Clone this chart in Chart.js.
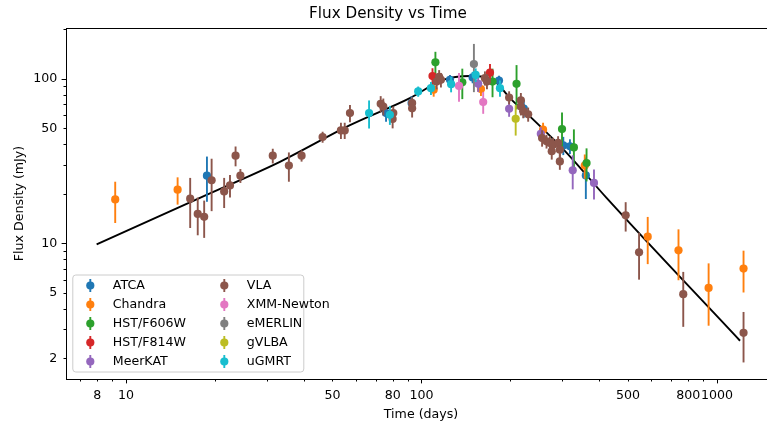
<!DOCTYPE html>
<html><head><meta charset="utf-8">
<script src="https://cdn.jsdelivr.net/npm/chart.js@4.4.1/dist/chart.umd.min.js"></script>
<style>
html,body{margin:0;padding:0;overflow:hidden;background:#fff;width:767px;height:424px}
#wrap{position:absolute;left:0;top:0;width:842px;height:424px}
</style>
</head><body><div id="wrap"><canvas id="c" width="842" height="424"></canvas></div>
<script>
// ---------- data ----------
const instrumentNames = ['ATCA','Chandra','HST/F606W','HST/F814W','MeerKAT','VLA','XMM-Newton','eMERLIN','gVLBA','uGMRT'];

const atcaTime = [18.8, 75.9, 92.6, 124.9, 149, 183, 222, 302, 318, 360];
const atcaFlux = [25.8, 61.9, 71.3, 98.6, 102, 97.6, 66, 39.4, 38.9, 25.9];
const atcaErr  = [7.9, 7, 7, 7, 8, 7, 8, 5, 4, 7.3];

const chandraTime = [9.2, 14.96, 110, 159, 258, 357, 583, 741, 937, 1230];
const chandraFlux = [18.5, 21.2, 85.9, 86.6, 49.1, 29.7, 10.98, 9.07, 5.36, 7.03];
const chandraErr  = [5.2, 4, 8, 8, 5, 5, 3.5, 3.1, 2.2, 2.0];

const f606Time = [111.5, 137.5, 174, 209.8, 299, 328, 362];
const f606Flux = [126, 95.3, 96.3, 93.2, 49.5, 38.3, 30.8];
const f606Err  = [20, 20, 19, 28, 13, 11, 7];

const f814Time = [109, 170.6];
const f814Flux = [104, 109];
const f814Err  = [12, 14];

const meerkatTime = [155.6, 198, 253.5, 325, 383.6];
const meerkatFlux = [93.2, 65.8, 46.3, 27.8, 23.3];
const meerkatErr  = [10, 7, 4.5, 6.5, 4.8];

const vlaTime = [16.5, 17.5, 18.4, 19.5, 21.5, 22.5, 23.5, 24.4, 31.4, 35.6, 39.3, 46.3, 53.4, 55.0, 57.3, 72.8, 74.3, 80.3, 79.9, 93, 93, 112.6, 114.8, 116.4, 164, 166.6, 198, 217, 217, 221, 229.7, 256, 265, 272, 279, 290, 294, 276, 294, 491, 545, 769, 1230];
const vlaFlux = [18.7, 15.1, 14.5, 24.2, 20.7, 22.5, 34.1, 25.8, 34.1, 29.7, 34.1, 44.3, 48.6, 48.6, 61.9, 70.5, 67.9, 61.9, 57, 71.3, 66.2, 96.3, 103, 98.6, 101, 96.5, 77, 74, 67.9, 63.6, 60.9, 43.7, 41.7, 40.8, 39.8, 40.8, 37.1, 36.3, 31.5, 14.8, 8.82, 4.91, 2.86];
const vlaErr  = [6.3, 3.9, 3.7, 8.5, 4.3, 3.5, 4.7, 2.5, 3.5, 6, 2.7, 3.4, 5.5, 5.5, 7.5, 8, 8, 6, 7, 6, 8, 10, 10, 10, 10, 10, 7, 8, 8, 6, 6, 5, 4, 4, 4, 4, 4, 4, 3.5, 3, 2.8, 1.8, 0.97];

const xmmTime = [134, 161.8];
const xmmFlux = [90.6, 72.3];
const xmmErr  = [18, 11];

const emerlinTime = [150.5];
const emerlinFlux = [123];
const emerlinErr  = [40];

const gvlbaTime = [208.4];
const gvlbaFlux = [57.2];
const gvlbaErr  = [12];

const ugmrtTime = [66.5, 78.2, 97.5, 107.7, 126, 152.6, 184.4];
const ugmrtFlux = [61.9, 60.5, 83.8, 87.8, 92.8, 105.7, 87.8];
const ugmrtErr  = [12, 8, 6, 8, 10, 10, 10];

// model curve
const modelTime = [7.96, 17.8, 33.2, 57.3, 91.4, 118.5, 145.9, 161.9, 179.7, 199.3, 232.8, 310, 423, 1197];
const modelFlux = [9.86, 18.9, 31.3, 52.3, 76.4, 98.6, 104, 103, 94.2, 76.4, 59.1, 35.5, 18.9, 2.56];

// ticks
const xTicks = [7, 8, 9, 10, 20, 30, 40, 50, 60, 70, 80, 90, 100, 200, 300, 400, 500, 600, 700, 800, 900, 1000];
const xTickLabels = [8, 10, 50, 80, 100, 500, 800, 1000];
const xMajorTicks = [10, 100, 1000];
const yTicks = [2, 3, 4, 5, 6, 7, 8, 9, 10, 20, 30, 40, 50, 60, 70, 80, 90, 100, 200];
const yTickLabels = [2, 5, 10, 50, 100];
const yMajorTicks = [10, 100];

// ---------- styling ----------
const instrumentColors = ['#1f77b4','#ff7f0e','#2ca02c','#d62728','#9467bd','#8c564b','#e377c2','#7f7f7f','#bcbd22','#17becf'];
const FONT = "'DejaVu Sans', sans-serif";
const series = [
  [atcaTime, atcaFlux, atcaErr],
  [chandraTime, chandraFlux, chandraErr],
  [f606Time, f606Flux, f606Err],
  [f814Time, f814Flux, f814Err],
  [meerkatTime, meerkatFlux, meerkatErr],
  [vlaTime, vlaFlux, vlaErr],
  [xmmTime, xmmFlux, xmmErr],
  [emerlinTime, emerlinFlux, emerlinErr],
  [gvlbaTime, gvlbaFlux, gvlbaErr],
  [ugmrtTime, ugmrtFlux, ugmrtErr]
];

const datasets = series.map((s, k) => ({
  type: 'scatter',
  label: instrumentNames[k],
  data: s[0].map((t, i) => ({x: t, y: s[1][i]})),
  errors: s[2],
  backgroundColor: instrumentColors[k],
  borderWidth: 0,
  pointRadius: 4.1,
  pointHoverRadius: 4.1,
  order: 11 - k
}));
datasets.push({
  type: 'line',
  label: 'model',
  data: modelTime.map((t, i) => ({x: t, y: modelFlux[i]})),
  borderColor: '#000',
  borderWidth: 1.9,
  pointRadius: 0,
  cubicInterpolationMode: 'monotone',
  fill: false,
  order: 20
});

const errorBars = {
  id: 'errorBars',
  beforeDatasetDraw(chart, args) {
    const ds = chart.data.datasets[args.index];
    if (!ds.errors) return;
    const {ctx, chartArea: ca, scales: {x, y}} = chart;
    ctx.save();
    ctx.beginPath(); ctx.rect(ca.left, ca.top, ca.right - ca.left, ca.bottom - ca.top); ctx.clip();
    ctx.strokeStyle = ds.backgroundColor;
    ctx.lineWidth = 1.9;
    ds.data.forEach((p, i) => {
      const e = ds.errors[i];
      const px = x.getPixelForValue(p.x);
      const lo = Math.max(p.y - e, 0.01);
      ctx.beginPath();
      ctx.moveTo(px, y.getPixelForValue(p.y + e));
      ctx.lineTo(px, y.getPixelForValue(lo));
      ctx.stroke();
    });
    ctx.restore();
  }
};

const frameAndTicks = {
  id: 'frameAndTicks',
  afterDatasetsDraw(chart) {
    const {ctx, chartArea: ca, scales: {x, y}} = chart;
    ctx.save();
    ctx.strokeStyle = '#000';
    ctx.lineWidth = 1;
    ctx.strokeRect(Math.round(ca.left) + 0.5, Math.round(ca.top) + 0.5, Math.round(ca.right - ca.left), Math.round(ca.bottom - ca.top));
    xTicks.forEach(v => {
      const px = Math.round(x.getPixelForValue(v)) + 0.5;
      const len = xMajorTicks.includes(v) ? 4.4 : 2.5;
      ctx.beginPath(); ctx.moveTo(px, ca.bottom); ctx.lineTo(px, ca.bottom + len); ctx.stroke();
    });
    yTicks.forEach(v => {
      const py = Math.round(y.getPixelForValue(v)) + 0.5;
      const len = yMajorTicks.includes(v) ? 4.4 : 2.5;
      ctx.beginPath(); ctx.moveTo(ca.left, py); ctx.lineTo(ca.left - len, py); ctx.stroke();
    });
    ctx.restore();
  }
};

const legendBox = {
  id: 'legendBox',
  afterDraw(chart) {
    const {ctx, chartArea: ca} = chart;
    const items = chart.data.datasets.filter(d => d.errors);
    const x0 = ca.left + 6.3, y1 = ca.bottom - 7.5, w = 231, h = 97;
    const y0 = y1 - h;
    ctx.save();
    ctx.beginPath();
    if (ctx.roundRect) ctx.roundRect(x0 + 0.5, y0 + 0.5, w, h, 3); else ctx.rect(x0 + 0.5, y0 + 0.5, w, h);
    ctx.fillStyle = 'rgba(255,255,255,0.8)';
    ctx.fill();
    ctx.strokeStyle = '#cccccc';
    ctx.lineWidth = 1;
    ctx.stroke();
    ctx.font = '12.6px ' + FONT;
    ctx.textBaseline = 'middle';
    ctx.textAlign = 'left';
    items.forEach((d, i) => {
      const col = Math.floor(i / 5), row = i % 5;
      const mx = x0 + 18 + col * 134;
      const my = y0 + 11 + row * 19;
      ctx.strokeStyle = d.backgroundColor;
      ctx.lineWidth = 1.9;
      ctx.beginPath(); ctx.moveTo(mx, my - 6.5); ctx.lineTo(mx, my + 6.5); ctx.stroke();
      ctx.fillStyle = d.backgroundColor;
      ctx.beginPath(); ctx.arc(mx, my, 4.1, 0, Math.PI * 2); ctx.fill();
      ctx.fillStyle = '#000';
      ctx.fillText(d.label, mx + 22.5, my + 0.5);
    });
    ctx.restore();
  }
};

new Chart(document.getElementById('c'), {
  data: {datasets},
  options: {
    responsive: false,
    animation: false,
    devicePixelRatio: 1,
    layout: {padding: {left: 0, right: 66, top: 0, bottom: 0}},
    plugins: {
      legend: {display: false},
      tooltip: {enabled: false},
      title: {
        display: true,
        text: 'Flux Density vs Time',
        color: '#000',
        font: {family: FONT, size: 15.2, weight: 'normal'},
        padding: {top: 5.3, bottom: 4.46}
      }
    },
    scales: {
      x: {
        type: 'logarithmic',
        min: 6.27, max: 1584,
        grid: {display: false, drawTicks: false, tickLength: 0},
        border: {display: false},
        afterBuildTicks: s => { s.ticks = xTicks.map(v => ({value: v})); },
        afterFit: s => { s.height = 45; },
        ticks: {
          autoSkip: false, maxRotation: 0, minRotation: 0, padding: 8.8,
          color: '#000', font: {family: FONT, size: 12.6},
          callback: v => xTickLabels.includes(v) ? String(v) : ''
        },
        title: {display: true, text: 'Time (days)', color: '#000', font: {family: FONT, size: 12.6}, padding: {top: 0, bottom: 1.8}}
      },
      y: {
        type: 'logarithmic',
        min: 1.499, max: 203.7,
        grid: {display: false, drawTicks: false, tickLength: 0},
        border: {display: false},
        afterBuildTicks: s => { s.ticks = yTicks.map(v => ({value: v})); },
        afterFit: s => { s.width = 66; },
        ticks: {
          autoSkip: false, padding: 8.8,
          color: '#000', font: {family: FONT, size: 12.6},
          callback: v => yTickLabels.includes(v) ? String(v) : ''
        },
        title: {display: true, text: 'Flux Density (mJy)', color: '#000', font: {family: FONT, size: 12.6}, padding: {top: 12.4, bottom: 0}}
      }
    }
  },
  plugins: [errorBars, frameAndTicks, legendBox]
});
</script>
</body></html>
